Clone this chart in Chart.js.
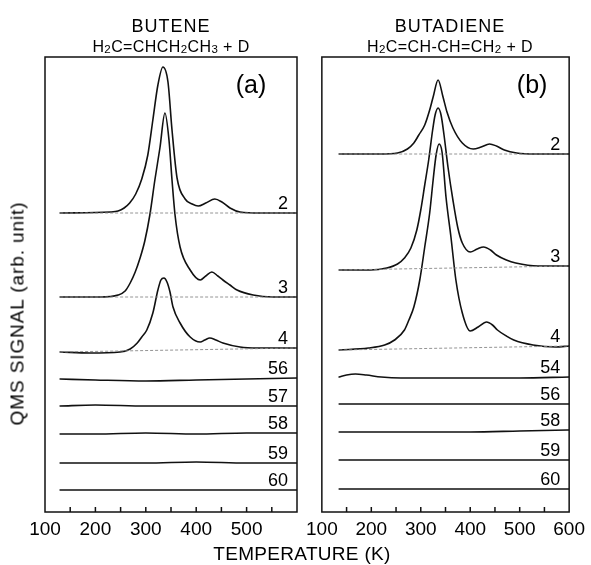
<!DOCTYPE html>
<html>
<head>
<meta charset="utf-8">
<script src="https://cdn.jsdelivr.net/npm/chart.js@4.4.0/dist/chart.umd.min.js"></script>
<style>
  body { margin: 0; background: #fff; }
  #wrap { position: relative; width: 591px; height: 565px; font-family: 'Liberation Sans', Arial, sans-serif; color: #000; }
  canvas { position: absolute; top: 0; }
  .t { position: absolute; text-align: center; line-height: 1; white-space: nowrap; }
  sub { font-size: 72%; vertical-align: -0.12em; line-height: 0; }
</style>
</head>
<body>
<div id="wrap">
  <canvas id="chartA" width="310" height="565" style="left:0"></canvas>
  <canvas id="chartB" width="291" height="565" style="left:300px"></canvas>
  <div class="t" style="left:71px;width:200px;top:17px;font-size:18px;letter-spacing:1px">BUTENE</div>
  <div class="t" style="left:61px;width:220px;top:39px;font-size:16px;letter-spacing:0.4px">H<sub>2</sub>C=CHCH<sub>2</sub>CH<sub>3</sub> + D</div>
  <div class="t" style="left:340px;width:220px;top:17px;font-size:18px;letter-spacing:1px">BUTADIENE</div>
  <div class="t" style="left:340px;width:220px;top:39px;font-size:16px;letter-spacing:0.4px">H<sub>2</sub>C=CH-CH=CH<sub>2</sub> + D</div>
  <div class="t" style="left:152px;width:300px;top:544px;font-size:19px;letter-spacing:0.3px">TEMPERATURE (K)</div>
  <div class="t" style="left:-133px;width:300px;top:304px;font-size:19px;letter-spacing:0.9px;transform:rotate(-90deg)">QMS SIGNAL (arb. unit)</div>
</div>
<script>
// x axis tick labels (K)
const tickValues = [100, 200, 300, 400, 500, 600];

// ---- panel (a): butene + D, mass numbers and vertical offsets
const aLabels = ['2', '3', '4', '56', '57', '58', '59', '60'];
const aOffsets = [299, 215, 160, 132, 106, 78, 49, 22];

const a2T = [130, 229, 245, 257, 268, 280, 292, 304, 314, 324, 334, 344, 352, 362, 378, 392, 404, 419, 437, 451, 467, 487, 527, 600];
const a2S = [0, 1, 2, 5, 10, 19, 34, 58, 93, 128, 146, 131, 83, 35, 14, 9, 7, 10, 14, 11, 5, 1, 0, 0];
const a3T = [130, 209, 245, 259, 269, 279, 288, 298, 308, 318, 328, 338, 346, 352, 358, 368, 388, 408, 419, 431, 443, 453, 467, 481, 513, 552, 600];
const a3S = [0, 0, 2, 6, 14, 25, 38, 56, 82, 117, 149, 184, 157, 117, 82, 50, 27, 17, 21, 25, 21, 17, 12, 7, 2, 0, 0];
const a4T = [130, 189, 249, 269, 283, 292, 302, 314, 324, 330, 336, 342, 348, 354, 368, 388, 408, 417, 427, 439, 453, 487, 521, 566, 600];
const a4S = [0, -1, 0, 3, 9, 15, 22, 39, 62, 72, 74, 70, 60, 45, 29, 15, 10, 12, 14, 12, 9, 5, 4, 4, 4];
const aFlatT = [130, 200, 300, 400, 500, 600];
const a56S = [1, 0, -1, 0, 1, 2];
const a57S = [0, 1, 0, 0, 0, 0];
const a58S = [0, 0, 1, 0, 1, 1];
const a59S = [0, 0, 0, 1, 0, 0];
const a60S = [0, 0, 0, 0, 0, 0];

// ---- panel (b): butadiene + D
const bLabels = ['2', '3', '4', '54', '56', '58', '59', '60'];
const bOffsets = [358, 242, 162, 134, 108, 80, 52, 23];

const b2T = [135, 218, 253, 273, 286, 296, 308, 318, 325, 335, 345, 353, 365, 384, 406, 422, 439, 453, 469, 494, 531, 600];
const b2S = [0, 0, 1, 5, 11, 19, 29, 44, 57, 74, 57, 42, 26, 11, 5, 7, 10, 8, 4, 1, 0, 0];
const b3T = [135, 198, 231, 253, 267, 280, 292, 300, 308, 316, 324, 329, 335, 341, 347, 355, 365, 375, 384, 400, 414, 427, 441, 453, 473, 492, 537, 600];
const b3S = [0, 0, 2, 6, 12, 22, 40, 60, 85, 110, 140, 155, 162, 155, 135, 103, 70, 42, 27, 18, 21, 23, 20, 15, 10, 7, 4, 4];
const b4T = [135, 194, 227, 247, 267, 276, 286, 298, 308, 318, 325, 331, 337, 343, 351, 361, 371, 384, 400, 416, 433, 445, 455, 473, 488, 527, 573, 600];
const b4S = [0, 2, 5, 10, 20, 30, 43, 70, 103, 137, 170, 195, 206, 198, 153, 113, 70, 37, 19, 23, 28, 25, 20, 14, 10, 5, 3, 4];
const b54T = [135, 150, 168, 190, 220, 260, 400, 500, 600];
const b54S = [1, 3, 4, 3, 1, 0, 0, 0, 1];
const bFlatT = [135, 250, 400, 500, 600];
const b56S = [0, 0, 0, 0, 0];
const b58S = [0, 0, 0, 1, 2];
const b59S = [0, 0, 0, 0, 0];
const b60S = [0, 0, 0, 0, 0];

const FONT = "'Liberation Sans', Arial, sans-serif";

function traceSet(tag, offset, temps, sig) {
  return {
    tag: tag,
    data: temps.map((t, i) => ({ x: t, y: offset + sig[i] })),
    borderColor: '#111',
    borderWidth: 1.6,
    pointRadius: 0,
    cubicInterpolationMode: 'monotone',
    borderCapStyle: 'round',
    borderJoinStyle: 'round'
  };
}

// thin baseline drawn under the peaks
function baseSet(offset, temps, sig) {
  return {
    data: [{ x: temps[0], y: offset + sig[0] }, { x: temps[temps.length - 1], y: offset + sig[sig.length - 1] }],
    borderColor: '#888',
    borderWidth: 0.9,
    borderDash: [3, 2],
    pointRadius: 0
  };
}

const frame = {
  id: 'frame',
  afterDatasetsDraw(chart, args, opts) {
    const { ctx, chartArea: a } = chart;
    const x = chart.scales.x, y = chart.scales.y;
    ctx.save();
    ctx.strokeStyle = '#111';
    ctx.lineWidth = 1.5;
    ctx.strokeRect(a.left, a.top, a.right - a.left, a.bottom - a.top);
    for (let t = 150; t < 600; t += 50) {
      const px = x.getPixelForValue(t);
      ctx.beginPath();
      ctx.moveTo(px, a.bottom);
      ctx.lineTo(px, a.bottom - 5);
      ctx.stroke();
    }
    ctx.fillStyle = '#000';
    ctx.font = '18px ' + FONT;
    ctx.textAlign = 'right';
    chart.data.datasets.forEach(ds => {
      if (!ds.tag) return;
      const last = ds.data[ds.data.length - 1];
      ctx.fillText(ds.tag, a.right - 9, y.getPixelForValue(last.y) - 4);
    });
    ctx.font = '25px ' + FONT;
    ctx.textAlign = 'center';
    ctx.fillText(opts.letter, a.right - opts.inset, a.top + 36);
    ctx.restore();
  }
};

function makeChart(id, sets, letter, inset, pad, hide600) {
  return new Chart(document.getElementById(id), {
    type: 'line',
    data: { datasets: sets },
    plugins: [frame],
    options: {
      responsive: false,
      animation: false,
      layout: { padding: pad },
      plugins: { legend: { display: false }, tooltip: { enabled: false }, frame: { letter: letter, inset: inset } },
      scales: {
        x: {
          type: 'linear', min: tickValues[0], max: tickValues[tickValues.length - 1],
          grid: { display: false, drawTicks: false },
          border: { display: false },
          ticks: {
            stepSize: 100, padding: 6, color: '#000', font: { size: 19, family: FONT },
            callback: v => (hide600 && v === 600) ? '' : v
          },
          afterFit: s => { s.height = 30; }
        },
        y: { display: false, min: 0, max: 455 }
      }
    }
  });
}

const aSig = [[a2T, a2S], [a3T, a3S], [a4T, a4S], [aFlatT, a56S], [aFlatT, a57S], [aFlatT, a58S], [aFlatT, a59S], [aFlatT, a60S]];
const bSig = [[b2T, b2S], [b3T, b3S], [b4T, b4S], [b54T, b54S], [bFlatT, b56S], [bFlatT, b58S], [bFlatT, b59S], [bFlatT, b60S]];

function buildSets(labels, offsets, sig) {
  const bases = [0, 1, 2].map(i => baseSet(offsets[i], sig[i][0], sig[i][1]));
  const lines = labels.map((l, i) => traceSet(l, offsets[i], sig[i][0], sig[i][1]));
  return bases.concat(lines);
}

makeChart('chartA', buildSets(aLabels, aOffsets, aSig), '(a)', 46, { left: 45, right: 13, top: 57, bottom: 23 }, true);
makeChart('chartB', buildSets(bLabels, bOffsets, bSig), '(b)', 37, { left: 20, right: 16, top: 57, bottom: 23 }, false);
</script>
</body>
</html>
